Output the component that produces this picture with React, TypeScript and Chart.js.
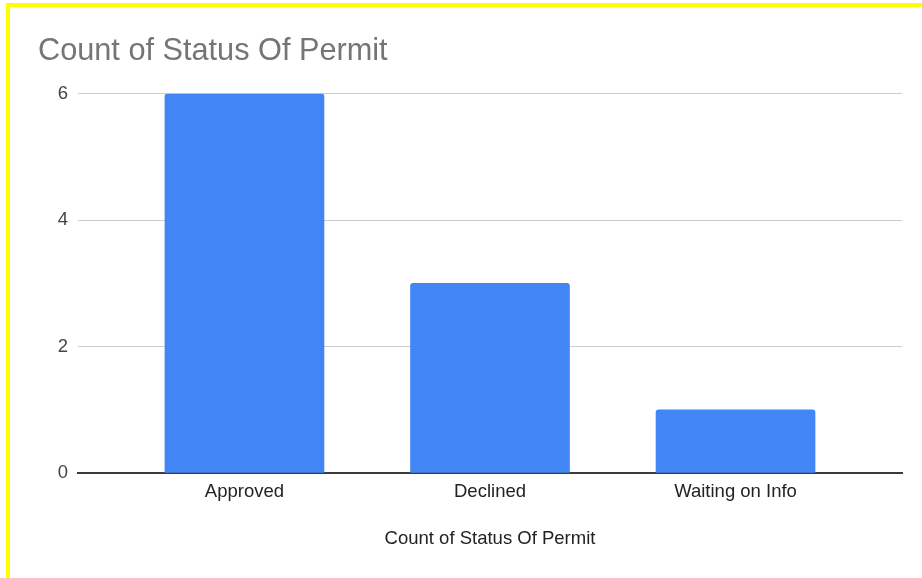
import React, { useEffect, useRef } from "react";
import { Chart, registerables } from "chart.js";

Chart.register(...registerables);

const categories = ["Approved", "Declined", "Waiting on Info"];
const counts = [6, 3, 1];
const yTicks = [0, 2, 4, 6];
const chartTitle = "Count of Status Of Permit";
const xAxisTitle = "Count of Status Of Permit";

const FONT = "'Liberation Sans', Arial, sans-serif";

export default function App() {
  const ref = useRef<HTMLCanvasElement | null>(null);

  useEffect(() => {
    if (!ref.current) return;
    const chart = new Chart(ref.current, {
      type: "bar",
      data: {
        datasets: [
          {
            data: categories.map((c, i) => ({ x: i, y: counts[i] })),
            backgroundColor: "#4285F4",
            borderWidth: 0,
            borderRadius: { topLeft: 3, topRight: 3, bottomLeft: 0, bottomRight: 0 },
            borderSkipped: false,
            barThickness: 159,
          },
        ],
      },
      options: {
        responsive: false,
        animation: false,
        layout: { padding: { left: 38, right: 20, top: 0, bottom: 0 } },
        plugins: {
          legend: { display: false },
          tooltip: { enabled: false },
          title: {
            display: true,
            text: chartTitle,
            align: "start",
            color: "#757575",
            font: { family: FONT, size: 30.7, weight: "normal" },
            padding: { top: 33, bottom: 24 },
          },
        },
        scales: {
          x: {
            type: "linear",
            offset: false,
            min: -0.678,
            max: 2.678,
            z: 1,
            grid: { display: false, drawTicks: false, offset: false },
            border: { display: true, color: "#3c3c3c", width: 2 },
            afterBuildTicks: (scale: any) => {
              scale.ticks = categories.map((c, i) => ({ value: i }));
            },
            afterFit: (scale: any) => {
              scale.height = 105;
            },
            ticks: {
              padding: 8,
              color: "#222222",
              font: { family: FONT, size: 18.5 },
              callback: (v: any) => categories[v as number] ?? "",
            },
            title: {
              display: true,
              text: xAxisTitle,
              color: "#222222",
              font: { family: FONT, size: 18.5 },
              padding: { top: 0, bottom: 28 },
            },
          },
          y: {
            min: 0,
            max: 6,
            afterBuildTicks: (scale: any) => {
              scale.ticks = yTicks.map((v) => ({ value: v }));
            },
            afterFit: (scale: any) => {
              scale.width = 40;
            },
            grid: {
              drawTicks: false,
              color: (ctx: any) => (ctx.tick && ctx.tick.value === 0 ? "rgba(0,0,0,0)" : "#cccccc"),
              lineWidth: 1,
            },
            border: { display: false },
            ticks: {
              padding: 10,
              color: "#444444",
              font: { family: FONT, size: 18.5 },
            },
          },
        },
      },
    });
    return () => chart.destroy();
  }, []);

  return (
    <div
      style={{
        position: "absolute",
        left: 0,
        top: 0,
        width: 922,
        height: 578,
        overflow: "hidden",
        background: "#ffffff",
      }}
    >
      <canvas
        ref={ref}
        width={922}
        height={578}
        style={{ position: "absolute", left: 0, top: 0, width: 922, height: 578 }}
      />
      <div
        style={{
          position: "absolute",
          left: 6,
          top: 3,
          width: 940,
          height: 573,
          borderTop: "4px solid #ffff00",
          borderLeft: "4px solid #ffff00",
          borderBottom: "4px solid #ffff00",
          pointerEvents: "none",
        }}
      />
    </div>
  );
}
